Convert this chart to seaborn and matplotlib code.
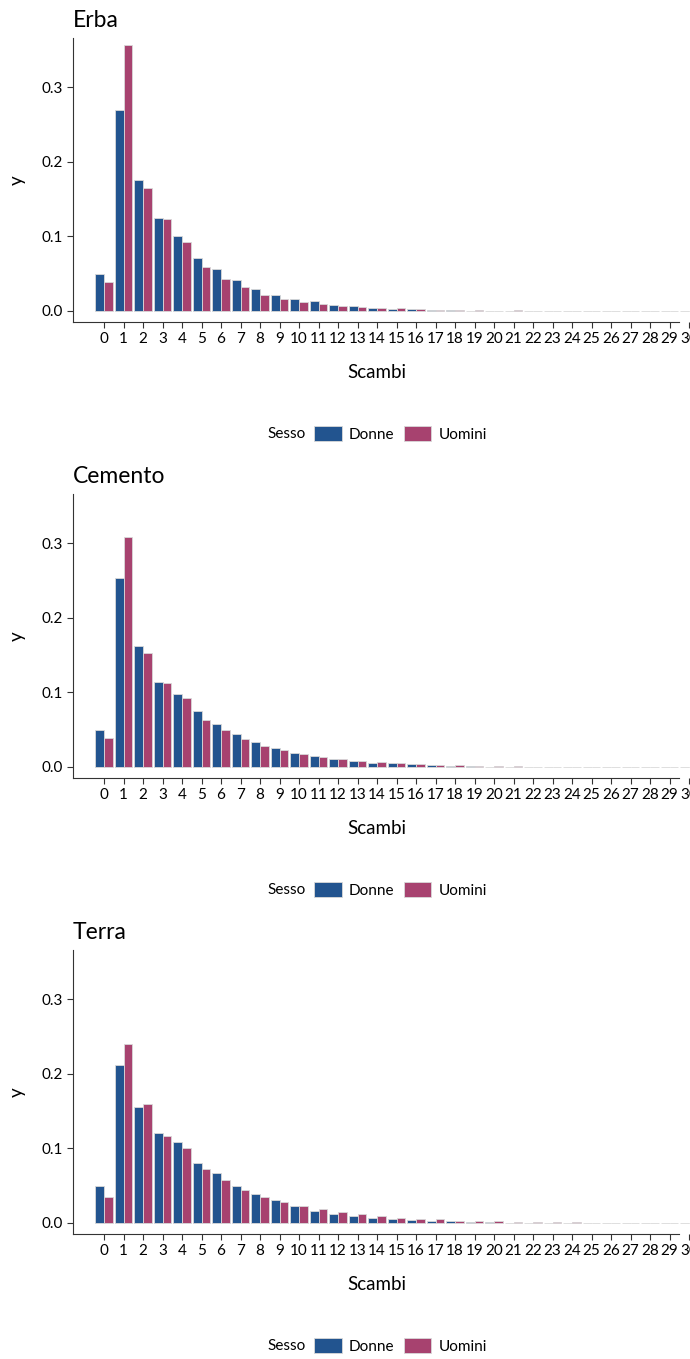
import numpy as np
import pandas as pd
import matplotlib
matplotlib.use("Agg")
import matplotlib.pyplot as plt
from matplotlib.patches import Patch
import seaborn as sns

scambi = [str(i) for i in range(31)]
sessi = ["Donne", "Uomini"]
superfici = ["Erba", "Cemento", "Terra"]

erba_donne = [0.050, 0.270, 0.175, 0.124, 0.101, 0.071, 0.056, 0.041, 0.030, 0.021, 0.016, 0.013, 0.008, 0.007, 0.0045,
              0.0027, 0.002, 0.0015, 0.001, 0.0005, 0.0003, 0.0002, 0.0002, 0.0001, 0.0001, 0.0001, 0, 0, 0, 0, 0]
erba_uomini = [0.039, 0.356, 0.1645, 0.123, 0.093, 0.059, 0.043, 0.032, 0.021, 0.016, 0.012, 0.009, 0.007, 0.005, 0.0045,
               0.004, 0.0025, 0.0013, 0.0013, 0.001, 0.0004, 0.0008, 0.0002, 0.0002, 0.0001, 0.0001, 0.0001, 0, 0, 0, 0]
cemento_donne = [0.050, 0.253, 0.162, 0.114, 0.0985, 0.0757, 0.058, 0.044, 0.033, 0.0255, 0.019, 0.0143, 0.0107, 0.0076, 0.0058,
                 0.0048, 0.0035, 0.0022, 0.0018, 0.0008, 0.0005, 0.0003, 0.0003, 0.0002, 0.0001, 0.0001, 0.0001, 0, 0, 0, 0]
cemento_uomini = [0.0385, 0.309, 0.153, 0.112, 0.092, 0.0636, 0.049, 0.0376, 0.0287, 0.0228, 0.017, 0.0139, 0.0103, 0.0085, 0.0067,
                  0.0055, 0.0045, 0.0032, 0.0025, 0.0018, 0.0013, 0.0009, 0.0006, 0.0005, 0.0003, 0.0002, 0.0001, 0.0001, 0, 0, 0]
terra_donne = [0.049, 0.212, 0.155, 0.120, 0.108, 0.080, 0.067, 0.0496, 0.0384, 0.0308, 0.0224, 0.016, 0.0125, 0.0098, 0.0072,
               0.0054, 0.004, 0.0027, 0.0022, 0.0013, 0.001, 0.0005, 0.0003, 0.0003, 0.0002, 0.0001, 0.0001, 0, 0, 0, 0]
terra_uomini = [0.035, 0.2405, 0.159, 0.116, 0.101, 0.0724, 0.0577, 0.0443, 0.0349, 0.0282, 0.0224, 0.0183, 0.0148, 0.0116, 0.0089,
                0.0067, 0.0054, 0.0049, 0.0031, 0.0027, 0.0022, 0.0009, 0.0009, 0.0008, 0.0007, 0.0003, 0.0002, 0.0001, 0.0001, 0, 0]

series = {
    "Erba": (erba_donne, erba_uomini),
    "Cemento": (cemento_donne, cemento_uomini),
    "Terra": (terra_donne, terra_uomini),
}
colors = {"Donne": "#22548f", "Uomini": "#a7426f"}

sns.set_theme(style="ticks")
plt.rcParams["font.family"] = ["Lato", "DejaVu Sans"]
plt.rcParams["text.color"] = "black"
plt.rcParams["axes.labelcolor"] = "black"

W, H = 690, 1359
fig = plt.figure(figsize=(W / 100, H / 100), dpi=100)

tops = [38, 494, 950]
ax_h = 284
left_px = 73
xmin, xmax = -1.59, 30.6
step = 19.5
ax_w = (xmax - xmin) * step

for sup, top in zip(superfici, tops):
    d, u = series[sup]
    df = pd.DataFrame({
        "Scambi": scambi * 2,
        "y": list(d) + list(u),
        "Sesso": ["Donne"] * len(scambi) + ["Uomini"] * len(scambi),
    })
    ax = fig.add_axes([left_px / W, 1 - (top + ax_h) / H, ax_w / W, ax_h / H])
    sns.barplot(data=df, x="Scambi", y="y", hue="Sesso", order=scambi, hue_order=sessi,
                palette=colors, width=0.9, edgecolor="#d9d9d9", linewidth=0.6,
                saturation=1, legend=False, ax=ax)
    ax.set_xlim(xmin, xmax)
    ax.set_ylim(-0.0148, 0.366)
    ax.set_yticks([0.0, 0.1, 0.2, 0.3])
    ax.set_yticklabels(["0.0", "0.1", "0.2", "0.3"])
    for s in ["top", "right"]:
        ax.spines[s].set_visible(False)
    for s in ["left", "bottom"]:
        ax.spines[s].set_color("#333333")
        ax.spines[s].set_linewidth(0.8)
    ax.spines["bottom"].set_bounds(xmin, 29.49)
    ax.tick_params(axis="both", labelsize=11, colors="#333333", labelcolor="black", length=4, width=0.8, pad=3)
    ax.set_title(sup, loc="left", fontsize=16.5, pad=8, color="black")
    ax.set_xlabel("Scambi", fontsize=13.5)
    ax.set_ylabel("y", fontsize=13.5)
    ax.xaxis.set_label_coords((376.5 - left_px) / ax_w, -42 / ax_h)
    ax.yaxis.set_label_coords(-47 / ax_w, 0.5)

    leg_y = 1 - (top + ax_h + 112) / H
    fig.text(306 / W, leg_y, "Sesso", ha="right", va="center", fontsize=11)
    handles = [Patch(facecolor=colors[s], edgecolor="#d9d9d9", linewidth=0.6) for s in sessi]
    fig.legend(handles, sessi, loc="center left", bbox_to_anchor=(314 / W, leg_y), ncol=2,
               frameon=False, fontsize=11, handlelength=1.83, handleheight=1.05,
               handletextpad=0.46, columnspacing=0.59, borderpad=0, borderaxespad=0)

fig.savefig("out.png", dpi=100)
